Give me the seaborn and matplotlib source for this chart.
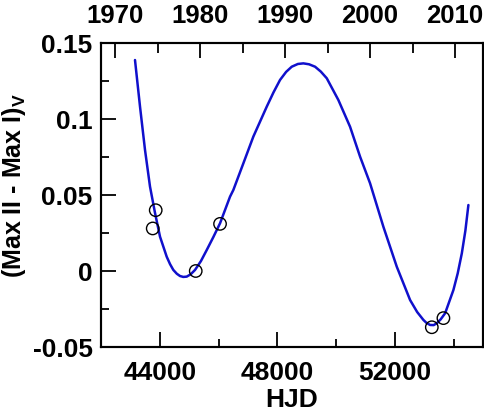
import numpy as np
import pandas as pd
import matplotlib
matplotlib.use("Agg")
import matplotlib.pyplot as plt
import seaborn as sns

# observed (Max II - Max I)_V
OBS_HJD = [43760, 43862, 45224, 46051, 53258, 53653]
OBS_DM = [0.028, 0.040, 0.000, 0.031, -0.037, -0.031]

# fitted curve
FIT_HJD = [43157, 43328, 43498, 43668, 43838, 44008, 44236, 44350, 44461, 44580,
           44689, 44800, 44917, 45050, 45200, 45400, 45598, 45820, 46051, 46391,
           46504, 46844, 47184, 47640, 47870, 48093, 48300, 48491, 48700, 48886,
           49080, 49285, 49480, 49683, 50078, 50476, 50817, 51157, 51610, 52066,
           52519, 52760, 52972, 53080, 53200, 53320, 53428, 53560, 53711, 53993,
           54140, 54279, 54400, 54503]
FIT_DM = [0.1388, 0.1081, 0.0796, 0.0555, 0.0382, 0.0226, 0.0094, 0.0045, 0.0007, -0.0018,
          -0.0033, -0.0039, -0.0037, -0.0022, 0.0007, 0.0065, 0.0138, 0.0222, 0.0314, 0.0489,
          0.0533, 0.0708, 0.0884, 0.1081, 0.1175, 0.1257, 0.1310, 0.1344, 0.1362, 0.1366,
          0.1360, 0.1344, 0.1312, 0.1268, 0.1125, 0.0949, 0.0752, 0.0577, 0.0291, 0.0028,
          -0.0191, -0.0270, -0.0322, -0.0342, -0.0355, -0.0356, -0.0344, -0.0318, -0.0278, -0.0125,
          -0.0015, 0.0116, 0.0265, 0.0434]

X_MAJOR = [44000, 48000, 52000]
X_MINOR = [42000, 46000, 50000, 54000]
Y_MAJOR = [-0.05, 0, 0.05, 0.1, 0.15]
Y_LABELS = ["-0.05", "0", "0.05", "0.1", "0.15"]
Y_MINOR = [-0.025, 0.025, 0.075, 0.125]
YEARS = [1970, 1980, 1990, 2000, 2010]
YEARS_MINOR = [1975, 1985, 1995, 2005]


def year_to_hjd(y):
    # top axis as drawn in the figure: 1970 -> 42477, 2010 -> 54050
    return 42477 + (np.asarray(y, dtype=float) - 1970) * (54050 - 42477) / 40


sns.set_style("ticks")
plt.rcParams["font.family"] = ["Liberation Sans", "DejaVu Sans"]
plt.rcParams["font.weight"] = "bold"
plt.rcParams["mathtext.fontset"] = "custom"
plt.rcParams["mathtext.bf"] = "Liberation Sans:bold"
plt.rcParams["mathtext.rm"] = "Liberation Sans:bold"
for key in ["text.color", "axes.labelcolor", "xtick.color", "ytick.color", "axes.edgecolor"]:
    plt.rcParams[key] = "black"

fit = pd.DataFrame({"hjd": FIT_HJD, "dm": FIT_DM})
obs = pd.DataFrame({"hjd": OBS_HJD, "dm": OBS_DM})

fig = plt.figure(figsize=(4.85, 4.15), dpi=100)
ax = fig.add_axes([101 / 485, 68 / 415, 382 / 485, 304 / 415])

sns.lineplot(data=fit, x="hjd", y="dm", ax=ax, color="#1010cc", lw=1.8, sort=False)
sns.scatterplot(data=obs, x="hjd", y="dm", ax=ax, s=80, marker="o",
                facecolor="none", edgecolor="black", linewidth=1.0, zorder=3)

ax.set_xlim(42000, 55000)
ax.set_ylim(-0.05, 0.15)
ax.set_xticks(X_MAJOR)
ax.set_xticklabels([str(v) for v in X_MAJOR])
ax.set_xticks(X_MINOR, minor=True)
ax.set_yticks(Y_MAJOR)
ax.set_yticklabels(Y_LABELS)
ax.set_yticks(Y_MINOR, minor=True)

ax.tick_params(which="major", direction="in", length=11, width=1.3,
               labelsize=19, top=False, right=False, color="black")
ax.tick_params(axis="x", which="major", pad=10)
ax.tick_params(axis="y", which="major", pad=6)
ax.tick_params(which="minor", direction="in", length=5.5, width=1.3,
               top=False, right=False)
for lab in ax.get_xticklabels() + ax.get_yticklabels():
    lab.set_fontweight("bold")

for sp in ax.spines.values():
    sp.set_visible(True)
    sp.set_linewidth(1.5)
    sp.set_color("black")

ax.set_xlabel("HJD", fontsize=19, fontweight="bold")
ax.set_ylabel(r"(Max II - Max I)$_\mathbf{V}$", fontsize=18, fontweight="bold")
ax.xaxis.set_label_coords(0.5, -0.135)
ax.yaxis.set_label_coords(-0.19, 0.53)

top = ax.twiny()
top.set_xlim(ax.get_xlim())
top.set_xticks(year_to_hjd(YEARS))
top.set_xticklabels([str(y) for y in YEARS])
top.set_xticks(year_to_hjd(YEARS_MINOR), minor=True)
top.tick_params(which="major", direction="in", length=11, width=1.3,
                labelsize=18.5, pad=11)
top.tick_params(which="minor", direction="in", length=7, width=1.3)
for lab in top.get_xticklabels():
    lab.set_fontweight("bold")
for sp in top.spines.values():
    sp.set_linewidth(1.5)

fig.savefig("out.png", dpi=100)
